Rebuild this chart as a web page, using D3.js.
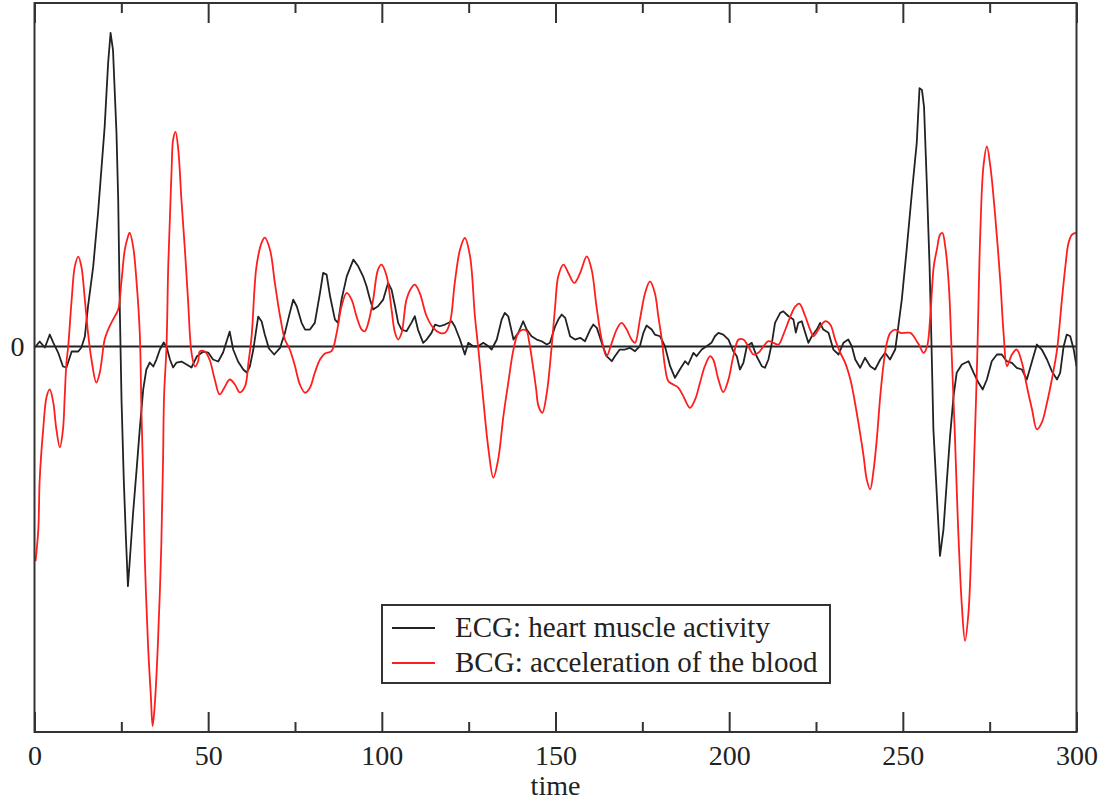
<!DOCTYPE html>
<html>
<head>
<meta charset="utf-8">
<script src="https://cdn.jsdelivr.net/npm/d3@7"></script>
<style>
  html, body { margin: 0; padding: 0; background: #fff; }
  svg { display: block; }
  text { font-family: "Liberation Serif", "Times New Roman", serif; fill: #222; }
</style>
</head>
<body>
<svg id="chart" width="1104" height="800"></svg>
<script>
// ---------- data ----------
const xTickValues = [0, 50, 100, 150, 200, 250, 300];
const xMinorTickValues = [25, 75, 125, 175, 225, 275];
const yTickValues = [0];
const xLabel = "time";
const seriesNames = ["ECG: heart muscle activity", "BCG: acceleration of the blood"];
const seriesColors = ["#222222", "#ff1e1e"];

const ecgTime = [0.1,1.5,3,4.4,5.4,6.8,8.2,9.2,10.7,12.6,13.5,14.5,15.4,16.9,18.3,20.2,21.2,21.9,22.6,23.6,24.1,24.6,25.05,25.7,26.3,26.9,27.4,28.4,29.4,30.3,31.3,32.2,33.2,34.2,35.1,36.1,37.2,38.0,39.0,39.9,40.9,42.3,43.8,45.2,46.7,48.6,50.0,51.4,52.9,54.3,56.2,57.2,58.6,60.1,61.1,62.0,63.0,64.4,65.4,66.3,67.5,69.0,70.7,72.1,73.5,74.5,75.5,76.9,77.9,79.3,80.7,82.2,83.1,84.1,85.1,86.5,87.4,88.4,89.9,91.8,93.2,94.6,95.6,96.6,97.5,98.9,100.4,101.8,102.8,103.8,104.7,105.7,107.1,108.5,109.5,110.4,111.9,112.9,114.3,115.3,116.7,118.2,120.1,121.0,122.5,123.9,124.9,126.3,127.8,129.2,130.7,131.6,133.1,134.5,135.4,136.4,137.9,139.3,140.7,141.7,143.1,144.6,146.0,147.5,148.4,149.9,150.8,151.8,152.8,154.2,155.6,157.1,158.5,160.0,160.9,161.9,163.3,164.7,166.2,167.1,168.5,170.0,171.4,172.9,174.3,175.3,176.2,177.7,178.6,180.1,181.5,183.0,184.4,185.8,187.3,188.2,189.7,190.6,192.1,193.5,194.9,195.9,196.9,198.3,199.8,201.2,202.2,203.1,204.1,205.1,206.5,207.9,209.4,210.3,211.3,212.3,213.2,214.7,215.6,217.1,218.5,219.2,219.9,220.9,221.9,222.8,223.8,225.2,226.2,227.1,228.6,230.0,231.5,232.9,234.3,235.3,236.3,237.7,239.1,240.6,242.0,243.5,244.9,246.3,247.8,248.7,249.7,251.1,252.6,254.0,254.8,255.5,256.1,256.9,257.7,258.3,258.8,259.8,260.7,261.7,262.7,263.6,264.6,265.5,267.0,268.9,270.4,271.8,273.0,274.2,275.6,277.1,278.5,279.9,281.4,282.8,284.3,285.7,287.2,288.6,290.0,291.5,292.9,294.4,295.3,296.3,297.2,298.2,299.2,300];
const ecgValues = [-0.01,0.05,-0.01,0.12,0.04,-0.06,-0.2,-0.21,-0.05,-0.05,-0.01,0.10,0.40,0.80,1.34,2.2,2.84,3.14,2.97,2.14,1.47,0.30,-0.53,-1.33,-1.9,-2.4,-2.16,-1.66,-1.23,-0.83,-0.43,-0.23,-0.16,-0.2,-0.13,-0.03,0.04,0,-0.13,-0.21,-0.16,-0.15,-0.18,-0.21,-0.1,-0.05,-0.06,-0.13,-0.15,-0.06,0.15,-0.03,-0.15,-0.23,-0.26,-0.2,-0.03,0.3,0.25,0.12,-0.02,-0.08,-0.013,0.137,0.337,0.47,0.403,0.237,0.17,0.17,0.237,0.537,0.737,0.72,0.503,0.27,0.237,0.47,0.703,0.87,0.803,0.703,0.603,0.47,0.37,0.403,0.47,0.637,0.57,0.403,0.237,0.17,0.153,0.237,0.303,0.17,0.037,0.07,0.137,0.22,0.203,0.22,0.253,0.203,0.07,-0.08,0.037,0.003,0.003,0.037,0.003,-0.03,0.07,0.27,0.337,0.303,0.07,0.137,0.253,0.17,0.103,0.07,0.053,0.02,0.037,0.203,0.27,0.32,0.287,0.103,0.07,0.087,0.053,0.17,0.22,0.187,0.037,-0.097,-0.147,-0.097,-0.03,-0.03,-0.013,-0.047,0.003,0.137,0.21,0.17,0.12,0.103,0.003,-0.197,-0.313,-0.23,-0.147,-0.18,-0.063,-0.097,-0.03,0.003,0.037,0.103,0.137,0.12,0.07,-0.047,-0.097,-0.23,-0.163,0.003,0.037,-0.097,-0.197,-0.213,-0.13,0.037,0.237,0.337,0.353,0.303,0.27,0.14,0.237,0.253,0.137,0.037,0.103,0.17,0.237,0.17,0.137,-0.03,-0.08,0.037,0.07,0.003,-0.13,-0.213,-0.113,-0.197,-0.23,-0.13,-0.063,-0.13,-0.03,0.203,0.47,0.97,1.537,2.037,2.587,2.57,2.403,1.637,0.803,-0.05,-0.83,-1.497,-2.097,-1.83,-1.33,-0.897,-0.497,-0.263,-0.18,-0.147,-0.263,-0.363,-0.43,-0.33,-0.147,-0.08,-0.08,-0.147,-0.163,-0.213,-0.23,-0.33,-0.147,0.02,-0.03,-0.13,-0.247,-0.33,-0.263,0.003,0.12,0.103,-0.03,-0.197];

const bcgTime = [0.3,1.1,1.5,2.5,3.5,4.4,5.4,6.3,7.3,8.2,8.7,9.2,9.7,10.7,11.6,12.6,13.5,14.5,15.4,16.4,17.8,18.8,20.2,21.2,22.6,24.1,25.0,26.0,26.9,27.4,28.4,29.4,30.3,30.8,31.3,31.8,32.7,33.5,34.0,34.6,35.5,36.5,37.0,37.3,38.0,38.5,39.0,39.5,39.9,40.6,41.4,42.3,43.3,44.2,45.2,46.2,47.1,47.6,49.0,50.4,51.9,53.3,54.7,56.2,57.7,59.1,60.6,61.6,62.5,63.9,65.4,66.3,67.8,69.2,70.7,72.1,73.5,75.0,76.4,77.9,79.3,80.7,82.2,83.6,85.5,87.0,88.4,89.9,91.3,92.7,94.2,95.1,96.1,97.5,98.9,99.9,101.4,102.8,103.8,104.7,105.7,107.1,108.5,109.5,110.9,112.9,114.8,116.7,118.2,119.6,121.0,122.5,123.9,125.4,126.8,127.8,129.2,130.7,132.1,133.5,135.0,136.4,137.9,139.3,140.7,141.7,142.4,143.4,144.4,145.1,146.2,147.5,148.9,149.9,150.8,152.3,153.7,155.4,157.1,159.0,160.4,161.8,163.3,164.7,166.2,167.6,169.0,170.5,171.9,172.9,174.3,175.8,177.2,178.6,179.6,180.6,181.5,182.5,183.9,185.4,186.8,188.7,190.2,191.6,193.0,194.5,195.4,196.9,198.3,199.8,201.2,202.7,204.1,205.5,207.0,208.4,209.9,211.3,212.7,214.2,215.6,217.5,219.0,220.2,221.9,223.3,224.3,225.7,227.6,229.1,230.5,232.0,233.4,234.9,235.8,237.2,238.7,239.6,240.6,241.6,242.5,243.5,244.5,245.4,246.4,247.8,249.3,250.7,252.2,253.1,254.6,256.0,257.0,257.9,258.9,259.8,260.7,261.4,262.2,263.2,264.1,265.0,265.9,267.0,267.9,268.9,269.9,270.5,271.1,271.5,271.8,272.3,273.2,274.2,275.2,276.6,278.1,279.0,280.0,281.4,282.8,284.3,285.7,287.2,288.6,290.0,291.5,292.9,294.4,295.8,296.8,297.7,298.7,299.6,300];
const bcgValues = [-2.15,-1.83,-1.33,-0.83,-0.5,-0.43,-0.56,-0.83,-1.01,-0.83,-0.5,-0.16,0,0.47,0.8,0.9,0.8,0.47,0.14,-0.13,-0.36,-0.26,0.07,0.17,0.27,0.37,0.64,0.97,1.10,1.14,1.0,0.64,0.14,-0.66,-1.33,-2.16,-3.0,-3.5,-3.8,-3.6,-3.0,-2.0,-1.16,-0.5,0,0.8,1.3,1.8,2.07,2.15,1.97,1.47,0.97,0.47,-0.06,-0.2,-0.15,-0.05,-0.05,-0.13,-0.33,-0.48,-0.41,-0.33,-0.38,-0.46,-0.4,-0.16,0.1,0.8,1.04,1.09,0.97,0.637,0.303,0.07,-0.03,-0.197,-0.38,-0.463,-0.413,-0.263,-0.13,-0.07,-0.047,0.137,0.403,0.537,0.47,0.303,0.17,0.153,0.237,0.47,0.77,0.82,0.703,0.37,0.137,0.07,0.137,0.47,0.587,0.62,0.537,0.303,0.187,0.137,0.137,0.237,0.637,0.97,1.087,0.903,0.303,-0.03,-0.53,-1.03,-1.313,-1.13,-0.697,-0.363,-0.03,0.137,0.17,0.153,0.05,-0.17,-0.42,-0.597,-0.663,-0.463,0.003,0.403,0.703,0.82,0.737,0.637,0.737,0.903,0.77,0.403,0.07,-0.097,0.037,0.17,0.237,0.17,0.07,0.037,0.27,0.537,0.653,0.537,0.303,0.07,-0.197,-0.347,-0.38,-0.413,-0.497,-0.613,-0.53,-0.363,-0.197,-0.097,-0.13,-0.33,-0.457,-0.33,-0.097,0.07,0.07,0.003,-0.08,-0.063,0.003,0.053,0.037,0.02,0.12,0.29,0.40,0.43,0.303,0.17,0.103,0.17,0.253,0.22,0.07,-0.063,-0.163,-0.33,-0.48,-0.763,-1.097,-1.33,-1.43,-1.23,-0.93,-0.497,-0.163,0.037,0.137,0.17,0.137,0.137,0.137,0.103,0.02,-0.063,0.003,0.303,0.803,0.97,1.12,1.137,1.003,0.637,-0.1,-0.9,-1.8,-2.6,-2.947,-2.663,-1.83,-1.163,-0.497,0.0,0.47,1.137,1.803,2.003,1.803,1.303,0.637,0.137,-0.197,-0.08,-0.03,-0.163,-0.397,-0.63,-0.83,-0.763,-0.563,-0.33,-0.03,0.47,0.803,1.037,1.12,1.137,1.14];

// ---------- layout ----------
const W = 1104, H = 800;
const plot = { left: 34.5, right: 1076.5, top: 3, bottom: 732 };
const svg = d3.select("#chart");

const x = d3.scaleLinear().domain([0, 300]).range([plot.left, plot.right]);
const y = d3.scaleLinear().domain([-3.86, 3.44]).range([plot.bottom, plot.top]);

svg.append("defs").append("clipPath").attr("id", "clip")
  .append("rect").attr("x", plot.left).attr("y", plot.top)
  .attr("width", plot.right - plot.left).attr("height", plot.bottom - plot.top);

// zero line
svg.append("line")
  .attr("x1", x(0)).attr("x2", x(300)).attr("y1", y(0)).attr("y2", y(0))
  .attr("stroke", "#222").attr("stroke-width", 2);

const ecg = ecgTime.map((t, i) => [t, ecgValues[i]]);
const bcg = bcgTime.map((t, i) => [t, bcgValues[i]]);

const g = svg.append("g").attr("clip-path", "url(#clip)");
g.append("path").datum(ecg)
  .attr("fill", "none").attr("stroke", seriesColors[0]).attr("stroke-width", 1.8)
  .attr("stroke-linejoin", "round")
  .attr("d", d3.line().x(d => x(d[0])).y(d => y(d[1])).curve(d3.curveLinear));
g.append("path").datum(bcg)
  .attr("fill", "none").attr("stroke", seriesColors[1]).attr("stroke-width", 1.8)
  .attr("stroke-linejoin", "round")
  .attr("d", d3.line().x(d => x(d[0])).y(d => y(d[1])).curve(d3.curveCatmullRom.alpha(0.5)));

// frame
svg.append("rect")
  .attr("x", plot.left).attr("y", plot.top)
  .attr("width", plot.right - plot.left).attr("height", plot.bottom - plot.top)
  .attr("fill", "none").attr("stroke", "#333").attr("stroke-width", 2);

// axes
function styleAxis(sel) {
  sel.select(".domain").remove();
  sel.selectAll(".tick line").attr("stroke", "#333").attr("stroke-width", 2);
  sel.selectAll(".tick text")
    .style("font-family", '"Liberation Serif", "Times New Roman", serif')
    .style("font-size", "28px").attr("fill", "#222");
}

svg.append("g").attr("transform", `translate(0,${plot.bottom})`)
  .call(d3.axisBottom(x).tickValues(xTickValues).tickSizeInner(-20).tickSizeOuter(0).tickPadding(13).tickFormat(d3.format("d")))
  .call(styleAxis);
svg.append("g").attr("transform", `translate(0,${plot.bottom})`)
  .call(d3.axisBottom(x).tickValues(xMinorTickValues).tickSizeInner(-10).tickSizeOuter(0).tickFormat(""))
  .call(styleAxis);
svg.append("g").attr("transform", `translate(0,${plot.top})`)
  .call(d3.axisTop(x).tickValues(xTickValues).tickSizeInner(-20).tickSizeOuter(0).tickFormat(""))
  .call(styleAxis);
svg.append("g").attr("transform", `translate(0,${plot.top})`)
  .call(d3.axisTop(x).tickValues(xMinorTickValues).tickSizeInner(-10).tickSizeOuter(0).tickFormat(""))
  .call(styleAxis);
svg.append("g").attr("transform", `translate(${plot.left},0)`)
  .call(d3.axisLeft(y).tickValues(yTickValues).tickSize(0).tickPadding(10).tickFormat(d3.format("d")))
  .call(styleAxis);

// x label
svg.append("text")
  .attr("x", (plot.left + plot.right) / 2).attr("y", 795)
  .attr("text-anchor", "middle")
  .style("font-size", "28px")
  .text(xLabel);

// legend
const leg = svg.append("g");
leg.append("rect")
  .attr("x", 382).attr("y", 605).attr("width", 448).attr("height", 78)
  .attr("fill", "#fff").attr("stroke", "#333").attr("stroke-width", 2);
seriesNames.forEach((name, i) => {
  const cy = 628 + i * 35;
  leg.append("line")
    .attr("x1", 392).attr("x2", 435).attr("y1", cy).attr("y2", cy)
    .attr("stroke", seriesColors[i]).attr("stroke-width", 1.8);
  leg.append("text")
    .attr("x", 455).attr("y", cy + 9)
    .style("font-size", "29px")
    .text(name);
});
</script>
</body>
</html>
